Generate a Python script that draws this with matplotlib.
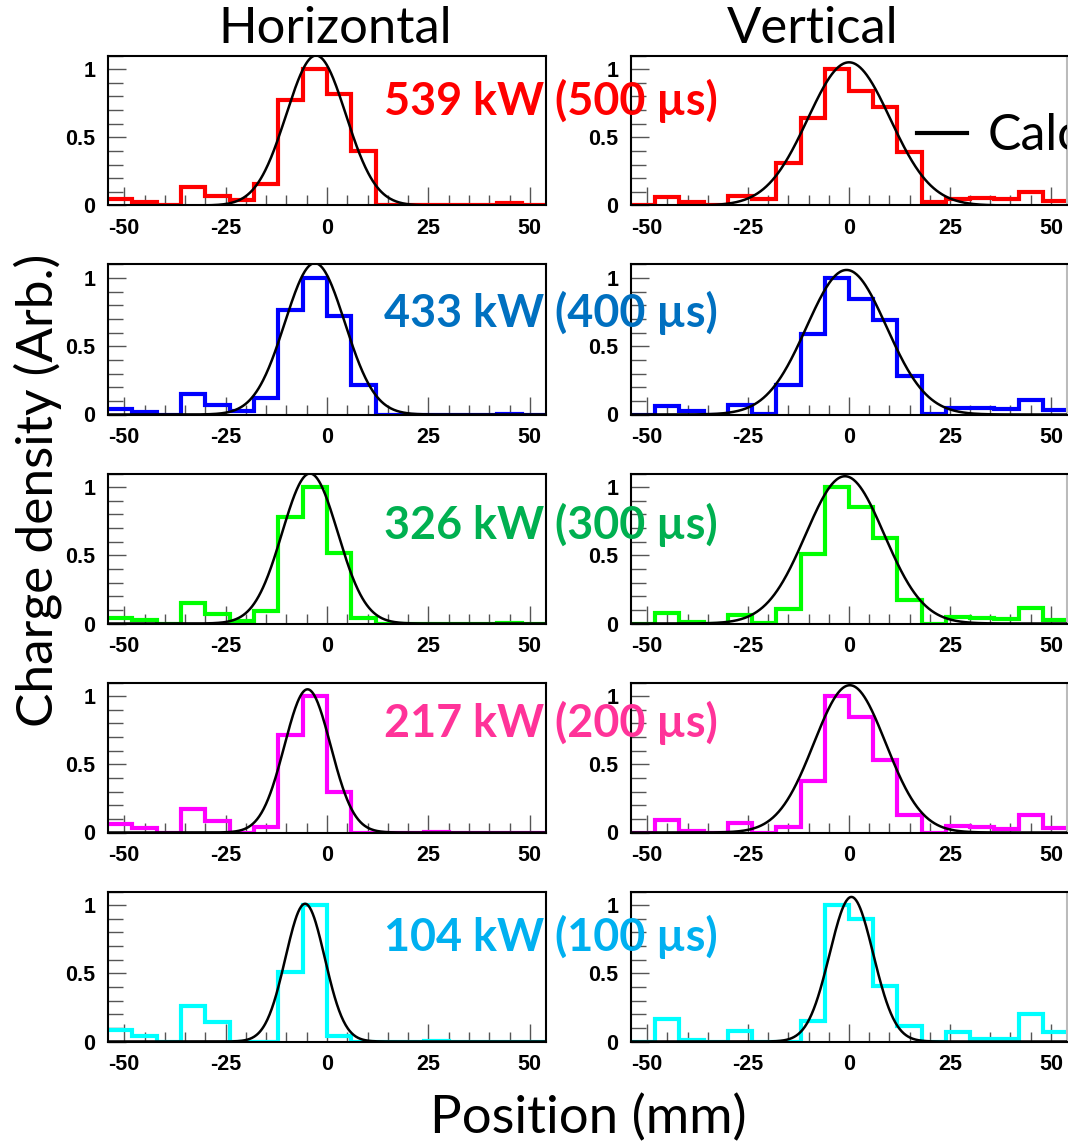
import numpy as np
import matplotlib
matplotlib.use("Agg")
import matplotlib.pyplot as plt
from matplotlib.ticker import MultipleLocator, FixedLocator, FixedFormatter
from matplotlib.lines import Line2D

plt.rcParams['axes.unicode_minus'] = False

# ---------------- data ----------------
bin_edges = [-54, -48, -42, -36, -30, -24, -18, -12, -6, 0, 6, 12, 18, 24, 30, 36, 42, 48, 54]

# Horizontal profiles (measured)
h_539 = [0.044, 0.025, 0.005, 0.135, 0.07, 0.037, 0.16, 0.77, 1.0, 0.82, 0.40, 0, 0, 0, 0, 0, 0.017, 0]
h_433 = [0.04, 0.02, 0, 0.147, 0.073, 0.025, 0.118, 0.767, 1.0, 0.72, 0.216, 0, 0, 0, 0, 0, 0.007, 0]
h_326 = [0.042, 0.025, 0, 0.154, 0.069, 0.017, 0.093, 0.784, 1.0, 0.52, 0.042, 0, 0, 0, 0, 0, 0.005, 0]
h_217 = [0.063, 0.03, 0, 0.176, 0.088, 0, 0.037, 0.712, 1.0, 0.30, 0, 0, 0, 0.007, 0, 0, 0, 0]
h_104 = [0.088, 0.044, 0, 0.26, 0.14, 0, 0, 0.51, 1.0, 0.04, 0, 0, 0, 0.005, 0, 0, 0, 0]

# Vertical profiles (measured)
v_539 = [0, 0.06, 0.025, 0.005, 0.07, 0.045, 0.31, 0.64, 1.0, 0.84, 0.72, 0.39, 0.025, 0.05, 0.055, 0.045, 0.10, 0.03]
v_433 = [0, 0.06, 0.025, 0, 0.07, 0.007, 0.216, 0.59, 1.0, 0.85, 0.69, 0.285, 0.005, 0.05, 0.05, 0.04, 0.105, 0.03]
v_326 = [0, 0.08, 0.012, 0, 0.06, 0.005, 0.105, 0.51, 1.0, 0.853, 0.625, 0.176, 0, 0.05, 0.042, 0.032, 0.115, 0.025]
v_217 = [0, 0.09, 0.01, 0, 0.07, 0, 0.04, 0.376, 1.0, 0.85, 0.534, 0.127, 0, 0.046, 0.039, 0.024, 0.13, 0.034]
v_104 = [0, 0.166, 0.012, 0, 0.078, 0, 0, 0.149, 1.0, 0.90, 0.41, 0.112, 0, 0.073, 0.02, 0.02, 0.20, 0.068]

# Calculated Gaussian profiles: amplitude, mean (mm), sigma (mm)
calc_h_amp = [1.10, 1.11, 1.10, 1.05, 1.01]
calc_h_mean = [-2.7, -3.0, -4.2, -4.8, -5.4]
calc_h_sigma = [7.35, 7.4, 6.85, 5.7, 4.85]
calc_v_amp = [1.05, 1.06, 1.08, 1.08, 1.06]
calc_v_mean = [0.0, -0.6, -1.0, 0.2, 0.6]
calc_v_sigma = [10.2, 9.9, 9.7, 8.9, 5.4]

power_labels = ["539 kW (500 \u00b5s)", "433 kW (400 \u00b5s)", "326 kW (300 \u00b5s)",
                "217 kW (200 \u00b5s)", "104 kW (100 \u00b5s)"]
label_colors = ["#FF0000", "#0070C0", "#00B050", "#FF3399", "#00B0F0"]
hist_colors = ["#FF0000", "#0000FF", "#00FF00", "#FF00FF", "#00FFFF"]

x_ticks = [-50, -25, 0, 25, 50]
x_ticklabels = ["-50", "-25", "0", "25", "50"]
y_ticks = [0, 0.5, 1]
y_ticklabels = ["0", "0.5", "1"]

h_data = [h_539, h_433, h_326, h_217, h_104]
v_data = [v_539, v_433, v_326, v_217, v_104]

# ---------------- layout ----------------
W, H = 1068, 1144
fig = plt.figure(figsize=(W / 100, H / 100), dpi=100)

def fx(px):
    return px / W

def fy(py):
    return 1 - py / H

row_bottoms = [205.5, 414.5, 623.5, 832.5, 1041.5]
ax_h = 150
col_left = [108, 631]
col_w = [438, 436]
label_y = [101, 313, 525, 723, 937]

xgrid = np.linspace(-54, 54, 600)
tick_font = dict(family="Liberation Sans", weight="bold", size=15.5)

def style_axes(ax):
    ax.set_xlim(-54, 54)
    ax.set_ylim(0, 1.1)
    ax.xaxis.set_major_locator(FixedLocator(x_ticks))
    ax.xaxis.set_major_formatter(FixedFormatter(x_ticklabels))
    ax.xaxis.set_minor_locator(MultipleLocator(5))
    ax.yaxis.set_major_locator(FixedLocator(y_ticks))
    ax.yaxis.set_major_formatter(FixedFormatter(y_ticklabels))
    ax.yaxis.set_minor_locator(MultipleLocator(0.1))
    ax.tick_params(axis='both', which='both', direction='in', top=False, right=False,
                   color='#555555')
    ax.tick_params(axis='x', which='major', length=13, width=1.0, pad=9)
    ax.tick_params(axis='x', which='minor', length=7, width=1.0)
    ax.tick_params(axis='y', which='major', length=13, width=1.0, pad=9)
    ax.tick_params(axis='y', which='minor', length=11, width=1.0)
    for lab in ax.get_xticklabels() + ax.get_yticklabels():
        lab.set_fontfamily(tick_font["family"])
        lab.set_fontweight(tick_font["weight"])
        lab.set_fontsize(tick_font["size"])
    for s in ax.spines.values():
        s.set_linewidth(1.5)
        s.set_color('black')

axes_right = []
for r in range(5):
    for c in range(2):
        b = row_bottoms[r]
        ax = fig.add_axes([fx(col_left[c]), fy(b), fx(col_w[c]), ax_h / H])
        style_axes(ax)
        if c == 0:
            vals = h_data[r]
            amp, mu, sg = calc_h_amp[r], calc_h_mean[r], calc_h_sigma[r]
        else:
            vals = v_data[r]
            amp, mu, sg = calc_v_amp[r], calc_v_mean[r], calc_v_sigma[r]
            ax.spines['right'].set_color('#bbbbbb')
            axes_right.append(ax)
        ax.stairs(vals, bin_edges, baseline=None, color=hist_colors[r], linewidth=3.0, zorder=2)
        ax.plot(xgrid, amp * np.exp(-0.5 * ((xgrid - mu) / sg) ** 2), color='black',
                linewidth=1.8, zorder=3)

# ---------------- texts ----------------
big_font = ['Lato', 'DejaVu Sans']
fig.text(fx(335.5), fy(29), "Horizontal", ha='center', va='center', family=big_font, fontsize=36.5)
fig.text(fx(813), fy(29), "Vertical", ha='center', va='center', family=big_font, fontsize=36.5)
fig.text(fx(38), fy(490), "Charge density (Arb.)", ha='center', va='center', rotation=90,
         family=big_font, fontsize=37)
fig.text(fx(588), fy(1118), "Position (mm)", ha='center', va='center', family=big_font, fontsize=38)

for r in range(5):
    fig.text(fx(551), fy(label_y[r]), power_labels[r], ha='center', va='center',
             family=big_font, fontweight='bold', fontsize=32.3, color=label_colors[r], zorder=10)

# legend (cut at right edge as in the original)
fig.add_artist(Line2D([fx(917), fx(967)], [fy(133), fy(133)], color='black', linewidth=3.0))
axes_right[0].text(fx(988), fy(136), "Calc.", transform=fig.transFigure, ha='left', va='center',
                   family=big_font, fontsize=36, clip_on=True)

fig.savefig("out.png", dpi=100)
